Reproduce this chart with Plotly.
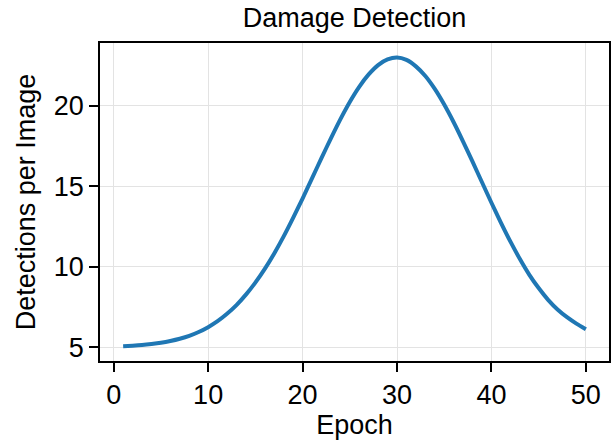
import plotly.graph_objects as go

epochs = list(range(1, 51))
detections = [
    5.07, 5.10, 5.14, 5.20, 5.28, 5.39, 5.53, 5.71, 5.95, 6.25,
    6.62, 7.08, 7.62, 8.27, 9.02, 9.87, 10.83, 11.89, 13.04, 14.24,
    15.49, 16.75, 17.98, 19.16, 20.24, 21.18, 21.95, 22.53, 22.88, 23.00,
    22.85, 22.45, 21.85, 21.05, 20.08, 18.98, 17.78, 16.53, 15.25, 13.98,
    12.75, 11.58, 10.50, 9.52, 8.68, 7.95, 7.35, 6.87, 6.47, 6.12,
]
x_ticks = [0, 10, 20, 30, 40, 50]
y_ticks = [5, 10, 15, 20]

FONT = "Liberation Sans, Arial, sans-serif"
FS = 27

fig = go.Figure()
fig.add_trace(go.Scatter(
    x=epochs, y=detections, mode="lines",
    line=dict(color="#1f77b4", width=4, shape="spline", smoothing=0.6),
    showlegend=False,
))

axis_common = dict(
    showline=True, linecolor="black", linewidth=1.6, mirror=True,
    ticks="outside", ticklen=9, tickwidth=1.6, tickcolor="black",
    showgrid=True, gridcolor="#e3e3e3", gridwidth=1,
    zeroline=False,
    tickfont=dict(family=FONT, size=FS, color="black"),
)

fig.update_layout(
    width=616, height=443,
    margin=dict(l=100, r=5, t=43, b=82),
    paper_bgcolor="white", plot_bgcolor="white",
    font=dict(family=FONT, size=FS, color="black"),
    title=dict(text="Damage Detection", x=0.5, xref="paper",
               y=1 - 18 / 443, yref="container", yanchor="middle",
               font=dict(family=FONT, size=FS, color="black")),
    xaxis=dict(range=[-1.45, 52.45], tickvals=x_ticks,
               title=dict(text="Epoch", standoff=6,
                          font=dict(family=FONT, size=FS, color="black")),
               **axis_common),
    yaxis=dict(range=[4.15, 23.9], tickvals=y_ticks,
               title=dict(text="Detections per Image", standoff=10,
                          font=dict(family=FONT, size=FS, color="black")),
               **axis_common),
)

fig.write_html("out.html")
